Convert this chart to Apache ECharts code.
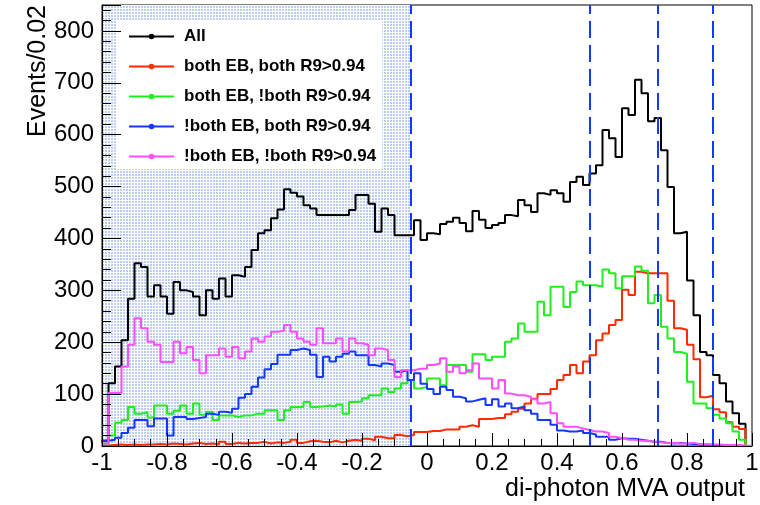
<!DOCTYPE html>
<html><head><meta charset="utf-8">
<script src="https://cdn.jsdelivr.net/npm/echarts@6/dist/echarts.min.js"></script>
<style>html,body{margin:0;padding:0;background:#fff}#c{width:760px;height:505px}</style>
</head><body><div id="c"></div>
<script>
// ---- histogram binning (100 bins of 0.02 from -1 to 1) ----
const binLow = -1;
const binWidth = 0.02;
const nBins = 100;

// ---- series values (events per bin) ----
const allEvents = [
  10,121,153,204,284,352,345,288,310,288,
  255,316,300,297,288,252,300,284,323,288,
  329,326,345,378,410,416,439,456,495,488,
  481,464,458,445,445,445,445,445,455,484,
  484,467,413,458,445,406,406,406,435,397,
  410,408,428,432,440,430,414,453,436,420,
  426,430,445,443,474,464,451,487,484,493,
  487,471,509,519,503,525,541,609,593,557,
  651,638,706,680,626,632,570,499,410,413,
  319,252,181,175,137,121,86,63,43,0
];
const ebEbR9R9 = [
  1,2,3,2,3,2,3,3,4,3,
  5,4,3,5,6,4,5,3,8,4,
  6,5,6,6,8,5,7,6,8,12,
  6,9,10,8,7,10,7,10,12,10,
  14,11,18,15,15,21,19,21,27,27,
  29,29,32,32,32,37,40,37,52,52,
  54,54,61,66,72,82,91,100,100,110,
  127,137,156,140,163,175,204,217,233,243,
  301,291,336,333,333,333,333,280,227,224,
  195,167,94,97,71,65,46,37,33,0
];
const ebEbNotR9 = [
  5,20,45,50,75,62,65,55,78,78,
  62,68,78,62,82,60,66,50,59,59,
  56,59,59,62,62,69,69,50,69,75,
  75,85,75,76,78,76,80,62,85,86,
  92,98,98,111,104,111,121,127,111,114,
  130,130,117,156,156,156,143,177,177,166,
  172,172,201,207,236,220,220,278,252,307,
  307,268,297,317,310,310,307,340,333,304,
  327,327,346,338,275,291,230,207,181,178,
  124,82,82,73,60,53,44,28,12,0
];
const notEbR9R9 = [
  10,12,16,25,35,50,50,38,53,53,
  20,56,56,52,54,56,62,60,66,64,
  72,93,100,114,132,148,158,176,176,185,
  188,185,176,133,172,163,172,178,182,175,
  175,156,153,159,156,143,146,127,140,120,
  110,100,114,108,95,92,86,89,92,79,
  90,76,82,73,76,69,62,50,50,41,
  30,28,28,30,25,22,18,18,12,15,
  14,14,12,10,8,8,6,5,6,5,
  4,3,3,2,2,1,1,1,0,0
];
const notEbNotR9 = [
  5,102,102,153,195,246,227,201,195,162,
  162,201,179,191,166,140,175,175,188,172,
  191,169,182,207,201,211,220,222,233,220,
  207,201,195,227,198,198,207,182,207,198,
  195,175,188,185,166,133,146,146,149,149,
  156,159,169,143,153,140,146,159,130,130,
  111,127,101,98,98,95,90,82,85,63,
  44,37,37,34,31,28,28,25,18,15,
  12,12,10,10,8,7,6,6,5,5,
  6,4,4,3,3,2,2,2,1,0
];

const seriesNames = ['All','both EB, both R9>0.94','both EB, !both R9>0.94','!both EB, both R9>0.94','!both EB, !both R9>0.94'];
const seriesValues = [allEvents, ebEbR9R9, ebEbNotR9, notEbR9R9, notEbNotR9];
const seriesColors = ['#000000','#ff2a00','#1ef01e','#1438ff','#ff4dff'];

// category boundaries (dashed lines) and shaded (excluded) region
const cutValues = [-0.05, 0.5, 0.71, 0.88];
const shadedRange = [-1, -0.05];

// tick labels
const xTickLabels = ['-1','-0.8','-0.6','-0.4','-0.2','0','0.2','0.4','0.6','0.8','1'];
const yTickLabels = ['0','100','200','300','400','500','600','700','800'];

// ---- build histogram outlines ----
function histData(vals){
  const d = [[binLow, 0]];
  for (let i = 0; i < nBins; i++) d.push([+(binLow + i*binWidth).toFixed(4), vals[i]]);
  const hi = +(binLow + nBins*binWidth).toFixed(4);
  d.push([hi, vals[nBins-1]]);
  d.push([hi, 0]);
  return d;
}

function makePattern(){
  const c = document.createElement('canvas'); c.width = 3; c.height = 3;
  const g = c.getContext('2d');
  g.fillStyle = '#ffffff'; g.fillRect(0,0,3,3);
  g.fillStyle = 'rgb(188,206,240)'; g.fillRect(0,0,2,2);
  return c;
}

const FONT = '"Liberation Sans", Arial, Helvetica, sans-serif';
const chart = echarts.init(document.getElementById('c'), null, {renderer:'canvas'});

const series = seriesNames.map((n, i) => ({
  name: n, type: 'line', step: 'end',
  data: histData(seriesValues[i]),
  symbol: 'circle', symbolSize: 5, showSymbol: false,
  lineStyle: {color: seriesColors[i], width: 2},
  itemStyle: {color: seriesColors[i]},
  z: 2, silent: true, animation: false
}));

series.unshift({
  name: 'shade', type: 'line', data: [], silent: true, z: 1,
  markArea: {
    silent: true, z: 1,
    itemStyle: {color: {image: makePattern(), repeat: 'repeat'}, borderWidth: 0},
    data: [[{xAxis: shadedRange[0], yAxis: 0}, {xAxis: shadedRange[1], yAxis: 850}]]
  }
});
series.push({
  name: 'cuts', type: 'line', data: [], silent: true, z: 5,
  markLine: {
    silent: true, symbol: ['none','none'], z: 5, animation: false,
    label: {show: false},
    lineStyle: {color: '#1438ff', width: 2, type: [17, 7]},
    data: cutValues.map(v => ({xAxis: v}))
  }
});

const option = {
  animation: false,
  backgroundColor: '#ffffff',
  grid: {left: 102, right: 8, top: 5, bottom: 59, show: true, borderColor: '#000', borderWidth: 1,
         backgroundColor: 'transparent', containLabel: false, outerBoundsMode: 'none'},
  legend: {
    data: seriesNames, orient: 'vertical', left: 117, top: 21,
    padding: [7, 6, 4, 11], itemWidth: 45, itemHeight: 7, itemGap: 13,
    backgroundColor: '#ffffff', selectedMode: false, z: 3,
    textStyle: {fontFamily: FONT, fontWeight: 'bold', fontSize: 17, color: '#000', padding: [0,0,0,5]}
  },
  xAxis: {
    type: 'value', min: -1, max: 1, interval: 0.2, z: 4,
    axisLine: {show: true, onZero: false, lineStyle: {color: '#000', width: 1}},
    axisTick: {show: true, inside: true, length: 13, lineStyle: {color: '#000', width: 1}},
    minorTick: {show: true, splitNumber: 4, length: 7, lineStyle: {color: '#000', width: 1}},
    splitLine: {show: false}, minorSplitLine: {show: false},
    axisLabel: {color: '#000', fontFamily: FONT, fontSize: 24, margin: 5,
      formatter: v => xTickLabels[Math.round((v + 1) / 0.2)] || ''}
  },
  yAxis: [{
    type: 'value', min: 0, max: 850, interval: 100, z: 4,
    axisLine: {show: true, onZero: false, lineStyle: {color: '#000', width: 1}},
    axisTick: {show: true, inside: true, length: 19, lineStyle: {color: '#000', width: 1}},
    splitLine: {show: false},
    axisLabel: {color: '#000', fontFamily: FONT, fontSize: 24, margin: 8,
      formatter: v => (v % 100 === 0 && yTickLabels[Math.round(v / 100)] !== undefined) ? yTickLabels[Math.round(v/100)] : ''}
  }, {
    type: 'value', min: 0, max: 850, interval: 20, position: 'left', offset: 0, z: 4,
    axisLine: {show: false, onZero: false},
    axisTick: {show: true, inside: true, length: 9, lineStyle: {color: '#000', width: 1}},
    splitLine: {show: false}, axisLabel: {show: false}
  }],
  graphic: [
    {type: 'text', x: 38, y: 5, rotation: Math.PI/2, silent: true,
     style: {text: 'Events/0.02', font: '25px ' + FONT, fill: '#000', textAlign: 'right', textVerticalAlign: 'middle'}},
    {type: 'text', x: 745, y: 502, silent: true,
     style: {text: 'di-photon MVA output', font: '25px ' + FONT, fill: '#000', textAlign: 'right', textVerticalAlign: 'bottom'}}
  ],
  series: series
};
chart.setOption(option);
</script>
</body></html>
